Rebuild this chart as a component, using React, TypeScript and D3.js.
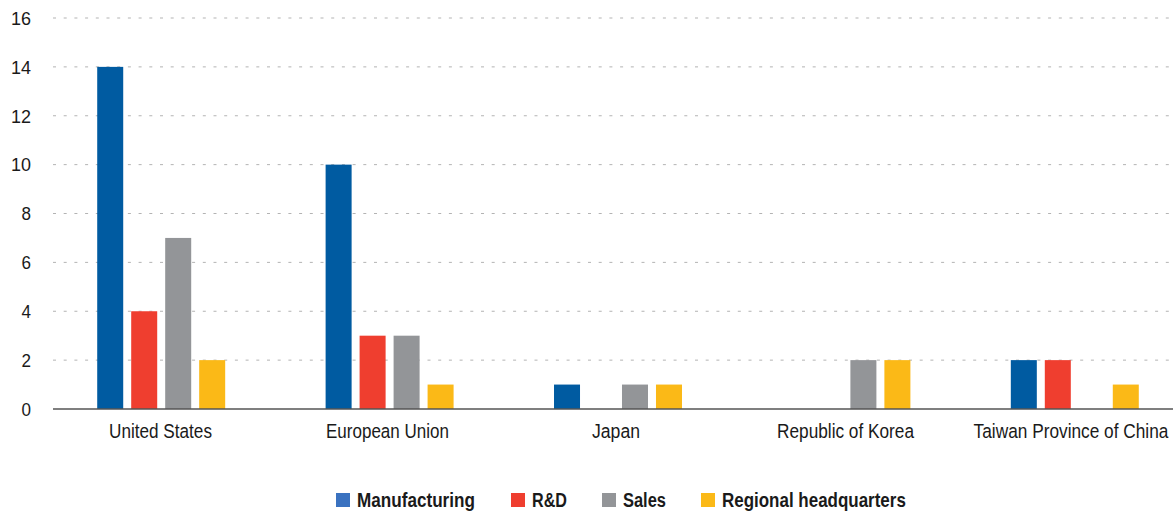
import React from "react";
import * as d3 from "d3";

const categories = ["United States", "European Union", "Japan", "Republic of Korea", "Taiwan Province of China"];
const seriesNames = ["Manufacturing", "R&D", "Sales", "Regional headquarters"];
const manufacturing = [14, 10, 1, 0, 2];
const rnd = [4, 3, 0, 0, 2];
const sales = [7, 3, 1, 2, 0];
const regionalHQ = [2, 1, 1, 2, 1];
const yTicks = [0, 2, 4, 6, 8, 10, 12, 14, 16];

const barColors = ["#005ba1", "#ef3e2f", "#939598", "#fbb917"];
const legendColors = ["#3a72c0", "#ef3e2f", "#939598", "#fbb917"];

const W = 1173;
const H = 511;
const FONT = "'Liberation Sans', Arial, sans-serif";

// measured label widths (condensed typeface emulated by horizontal scaling)
const catLabelWidths = [103, 123, 48, 137, 195];
const catLabelCenters = [160.5, 387.5, 616, 845.5, 1071];
const legendX = [336, 511, 602, 701];
const legendTextW = [118, 35, 43, 184];

let ctx: CanvasRenderingContext2D | null = null;
function measure(text: string, size: number, weight: string): number {
  if (!ctx) ctx = document.createElement("canvas").getContext("2d");
  if (!ctx) return text.length * size * 0.5;
  ctx.font = `${weight} ${size}px 'Liberation Sans', Arial, sans-serif`;
  return ctx.measureText(text).width;
}

function Condensed(props: { text: string; x: number; y: number; width: number; size: number; weight?: string; anchor?: "start" | "middle" | "end" }) {
  const { text, x, y, width, size, weight = "normal", anchor = "start" } = props;
  const natural = measure(text, size, weight);
  const sx = natural > 0 ? width / natural : 1;
  return (
    <text
      transform={`translate(${x},${y}) scale(${sx},1)`}
      textAnchor={anchor}
      fontFamily={FONT}
      fontSize={size}
      fontWeight={weight}
      fill="#1a1a1a"
    >
      {text}
    </text>
  );
}

export default function App() {
  const series = [manufacturing, rnd, sales, regionalHQ];
  const y = d3.scaleLinear().domain([0, 16]).range([409, 18]);
  const x0 = d3.scaleBand<string>().domain(categories).range([47, 1189]).paddingInner(0).paddingOuter(0);
  const groupW = 136;
  const x1 = d3.scaleBand<string>().domain(seriesNames).range([0, groupW]).paddingInner(0.235).paddingOuter(0.118);
  const gridX0 = 53;

  return (
    <svg width={W} height={H} style={{ position: "absolute", left: 0, top: 0, background: "#fff" }}>
      {yTicks.filter((t) => t > 0).map((t) => (
        <line key={"g" + t} x1={gridX0} x2={W} y1={y(t)} y2={y(t)} stroke="#b3b3b3" strokeWidth={1} strokeDasharray="3,7.7" />
      ))}
      {yTicks.map((t) => (
        <Condensed key={"t" + t} text={String(t)} x={31} y={y(t) + 6.8} width={t >= 10 ? 20 : 9.5} size={19} anchor="end" />
      ))}
      {categories.map((c, ci) => {
        const gx = (x0(c) as number) + x0.bandwidth() / 2 - groupW / 2;
        return (
          <g key={c}>
            {series.map((s, si) =>
              s[ci] > 0 ? (
                <rect
                  key={si}
                  x={gx + (x1(seriesNames[si]) as number)}
                  y={y(s[ci])}
                  width={x1.bandwidth()}
                  height={y(0) - y(s[ci])}
                  fill={barColors[si]}
                />
              ) : null
            )}
            <Condensed text={c} x={catLabelCenters[ci]} y={438} width={catLabelWidths[ci]} size={19.5} anchor="middle" />
          </g>
        );
      })}
      <line x1={gridX0} x2={W} y1={y(0)} y2={y(0)} stroke="#555" strokeWidth={1.5} />
      {seriesNames.map((name, i) => (
        <g key={name}>
          <rect x={legendX[i]} y={493} width={14} height={14} fill={legendColors[i]} />
          <Condensed text={name} x={legendX[i] + 21} y={507} width={legendTextW[i]} size={19.5} weight="bold" />
        </g>
      ))}
    </svg>
  );
}
